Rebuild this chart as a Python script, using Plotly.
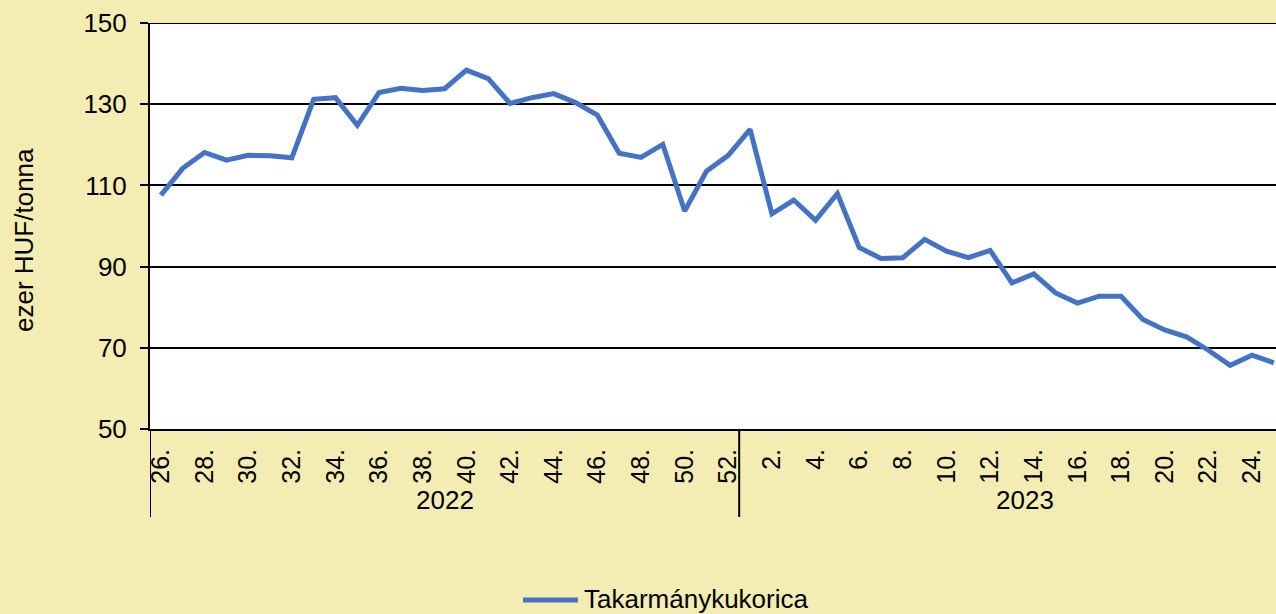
import plotly.graph_objects as go

# heti árak, 2022. 26. héttől 2023. 25. hétig
weeks_2022 = list(range(26, 53))
weeks_2023 = list(range(1, 26))
prices_2022 = [107.6, 114.2, 118.1, 116.2, 117.4, 117.3, 116.8, 131.2, 131.6, 124.8,
               132.9, 133.9, 133.4, 133.8, 138.4, 136.3, 130.2, 131.6, 132.6, 130.4,
               127.3, 117.9, 116.9, 120.1, 103.7, 113.5, 117.4]
prices_2023 = [123.8, 103.0, 106.4, 101.4, 108.0, 94.7, 92.0, 92.2, 96.7, 93.8,
               92.2, 94.0, 86.0, 88.2, 83.5, 81.0, 82.7, 82.7, 77.0, 74.4,
               72.7, 69.4, 65.7, 68.2, 66.3]
years = ["2022", "2023"]
series_name = "Takarmánykukorica"
y_title = "ezer HUF/tonna"

week_labels = [f"{w}." for w in weeks_2022 + weeks_2023]
prices = prices_2022 + prices_2023
idx = list(range(len(prices)))
tick_idx = [i for i, w in enumerate(weeks_2022 + weeks_2023) if w % 2 == 0]

FONT = "Liberation Sans, Arial, sans-serif"
BG = "#F4EDB3"
BLUE = "#4472C4"
PLOT_W, PLOT_H = 1126, 406  # plot area in px


def px_x(p):  # px offset from plot left -> paper x
    return p / PLOT_W


def px_y(p):  # px below plot bottom -> paper y
    return -p / PLOT_H


fig = go.Figure()
fig.add_trace(go.Scatter(
    x=idx, y=prices, mode="lines", name=series_name,
    line=dict(color=BLUE, width=5), showlegend=False,
))

fig.update_layout(
    width=1276, height=614,
    paper_bgcolor=BG, plot_bgcolor="white",
    margin=dict(l=150, r=0, t=23, b=185),
    font=dict(family=FONT, size=26, color="black"),
)
fig.update_xaxes(
    range=[-0.5, len(prices) - 0.9],
    tickvals=tick_idx, ticktext=[week_labels[i] for i in tick_idx],
    tickangle=-90, showgrid=False, zeroline=False,
    showline=True, linecolor="black", linewidth=2, ticks="",
    tickfont=dict(size=25), ticklabelstandoff=8,
)
fig.update_yaxes(
    range=[50, 150], dtick=20, tick0=50,
    showgrid=True, gridcolor="black", gridwidth=2,
    showline=True, linecolor="black", linewidth=2,
    ticks="outside", ticklen=8, tickwidth=2, tickcolor="black",
    zeroline=False, tickfont=dict(size=26), ticklabelstandoff=8,
)

# felső rácsvonal (150)
fig.add_shape(type="line", xref="paper", yref="y", x0=0, x1=1, y0=150, y1=150,
              line=dict(color="black", width=2))

# év-elválasztók és évcímkék
for xpos in [-0.5, len(weeks_2022) - 0.5]:
    fig.add_shape(type="line", xref="x", yref="paper", x0=xpos, x1=xpos,
                  y0=px_y(88), y1=0, line=dict(color="black", width=2))
fig.add_annotation(x=(len(weeks_2022) - 1) / 2, y=px_y(71), xref="x", yref="paper",
                   text=years[0], showarrow=False, xanchor="center", yanchor="middle")
fig.add_annotation(x=len(weeks_2022) + 12.6, y=px_y(71), xref="x", yref="paper",
                   text=years[1], showarrow=False, xanchor="center", yanchor="middle")

# tengelycím
fig.add_annotation(x=px_x(24 - 150), y=(429 - 240) / PLOT_H, xref="paper", yref="paper",
                   text=y_title, textangle=-90, showarrow=False,
                   xanchor="center", yanchor="middle")

# jelmagyarázat
fig.add_shape(type="line", xref="paper", yref="paper",
              x0=px_x(523 - 150), x1=px_x(578 - 150), y0=px_y(171), y1=px_y(171),
              line=dict(color=BLUE, width=5))
fig.add_annotation(x=px_x(582 - 150), y=px_y(170), xref="paper", yref="paper",
                   text=series_name, showarrow=False, xanchor="left", yanchor="middle")

fig.write_html("out.html", config={"displayModeBar": False},
               post_script="document.body.style.margin='0';"
                           "document.body.style.background='%s';" % BG)
